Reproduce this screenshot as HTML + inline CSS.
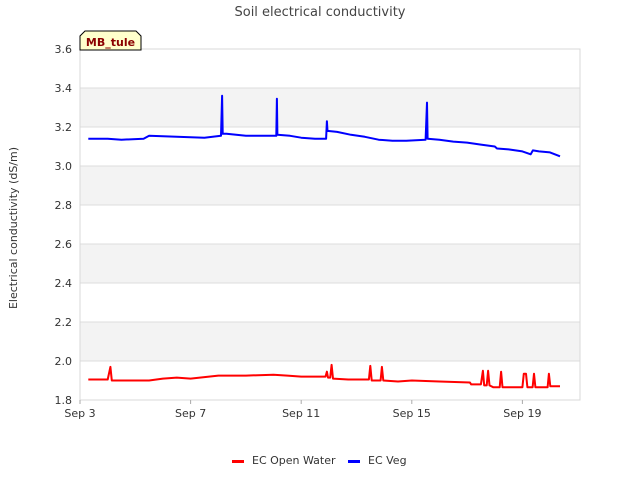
<!DOCTYPE html>
<html><head><meta charset="utf-8"><style>
body{margin:0;background:#fff;font-family:"DejaVu Sans","Liberation Sans",sans-serif}
svg text{font-family:"DejaVu Sans","Liberation Sans",sans-serif}
</style></head><body>
<svg id="c" width="640" height="480" viewBox="0 0 640 480">
<text x="320" y="16" text-anchor="middle" font-size="13" fill="#444">Soil electrical conductivity</text>
<g id="grid"></g><g id="series"></g><g id="axes"></g>
<text transform="translate(17,228) rotate(-90)" text-anchor="middle" font-size="11" fill="#333">Electrical conductivity (dS/m)</text>
<g>
<path d="M80,50 L80,36 L85,31 L136,31 L141,36 L141,50 Z" fill="#ffffcc" stroke="#000" stroke-width="1"/>
<text x="110.5" y="46" text-anchor="middle" font-size="11" font-weight="bold" fill="#8b0000">MB_tule</text>
</g>
<g>
<g><rect x="232" y="460" width="12" height="3" fill="#f00"/><text x="252" y="464" font-size="11" fill="#333">EC Open Water</text></g>
<g><rect x="348" y="460" width="12" height="3" fill="#00f"/><text x="368" y="464" font-size="11" fill="#333">EC Veg</text></g>
</g>
</svg>
<script>
const yTicks=[1.8,2.0,2.2,2.4,2.6,2.8,3.0,3.2,3.4,3.6];
const xTickDays=[0,4,8,12,16];
const xTickLabels=["Sep 3","Sep 7","Sep 11","Sep 15","Sep 19"];
const vegDays=[0.3,1.0,1.5,2.3,2.5,3.5,4.5,5.1,5.14,5.16,5.3,6.0,7.1,7.12,7.14,7.6,8.0,8.5,8.9,8.93,8.95,9.3,9.8,10.3,10.8,11.3,11.8,12.5,12.55,12.57,13.0,13.5,14.0,14.5,15.0,15.08,15.5,16.0,16.3,16.38,16.6,17.0,17.36];
const vegVals=[3.14,3.14,3.135,3.14,3.155,3.15,3.145,3.155,3.36,3.165,3.165,3.155,3.155,3.345,3.16,3.155,3.145,3.14,3.14,3.23,3.18,3.175,3.16,3.15,3.135,3.13,3.13,3.135,3.325,3.14,3.135,3.125,3.12,3.11,3.1,3.09,3.085,3.075,3.06,3.08,3.075,3.07,3.05];
const owDays=[0.3,1.0,1.1,1.15,1.3,2.0,2.5,3.0,3.5,4.0,5.0,5.5,6.0,7.0,7.5,8.0,8.88,8.93,8.97,9.05,9.1,9.15,9.7,10.45,10.5,10.55,10.87,10.92,10.97,11.5,12.0,13.0,14.1,14.15,14.5,14.57,14.62,14.71,14.76,14.81,14.95,15.18,15.23,15.28,16.0,16.05,16.13,16.18,16.37,16.42,16.47,16.91,16.96,17.01,17.36];
const owVals=[1.905,1.905,1.97,1.9,1.9,1.9,1.9,1.91,1.915,1.91,1.925,1.925,1.925,1.93,1.925,1.92,1.92,1.945,1.915,1.915,1.98,1.91,1.905,1.905,1.975,1.9,1.9,1.97,1.9,1.895,1.9,1.895,1.89,1.88,1.88,1.95,1.875,1.875,1.95,1.875,1.865,1.865,1.945,1.865,1.865,1.935,1.935,1.865,1.865,1.935,1.865,1.865,1.935,1.87,1.87];
const NS='http://www.w3.org/2000/svg';
const L=80,R=580,T=49,B=400,dayW=27.65;
const xs=d=>L+d*dayW, ys=v=>B-(v-1.8)/1.8*(B-T);
function mk(t,a,p){const e=document.createElementNS(NS,t);for(const k in a)e.setAttribute(k,a[k]);p.appendChild(e);return e;}
const grid=document.getElementById('grid'),axes=document.getElementById('axes'),ser=document.getElementById('series');
for(let i=0;i<yTicks.length-1;i++){if(i%2==1){const r=mk('rect',{x:L,y:ys(yTicks[i+1]),width:R-L,height:ys(yTicks[i])-ys(yTicks[i+1]),fill:'#f3f3f3'},grid);}}
yTicks.forEach(v=>{const l=mk('line',{x1:L,x2:R,y1:ys(v),y2:ys(v),stroke:'#dedede'},grid);
const t=mk('text',{x:L-8,y:ys(v)+4,'text-anchor':'end','font-size':'11',fill:'#333'},axes);t.textContent=v.toFixed(1);});
mk('rect',{x:L,y:T,width:R-L,height:B-T,fill:'none',stroke:'#d8d8d8'},grid);
xTickDays.forEach((d,i)=>{mk('line',{x1:xs(d),x2:xs(d),y1:B,y2:B+4,stroke:'#aaa'},axes);const t=mk('text',{x:xs(d),y:B+17,'text-anchor':'middle','font-size':'11',fill:'#333'},axes);t.textContent=xTickLabels[i];});
function line(days,vals,c,name){const p=mk('polyline',{points:days.map((d,i)=>xs(d).toFixed(1)+','+ys(vals[i]).toFixed(1)).join(' '),fill:'none',stroke:c,'stroke-width':'2','stroke-linejoin':'round'},ser);}
line(owDays,owVals,'#f00','ec-open-water-line');
line(vegDays,vegVals,'#00f','ec-veg-line');
</script>
</body></html>
